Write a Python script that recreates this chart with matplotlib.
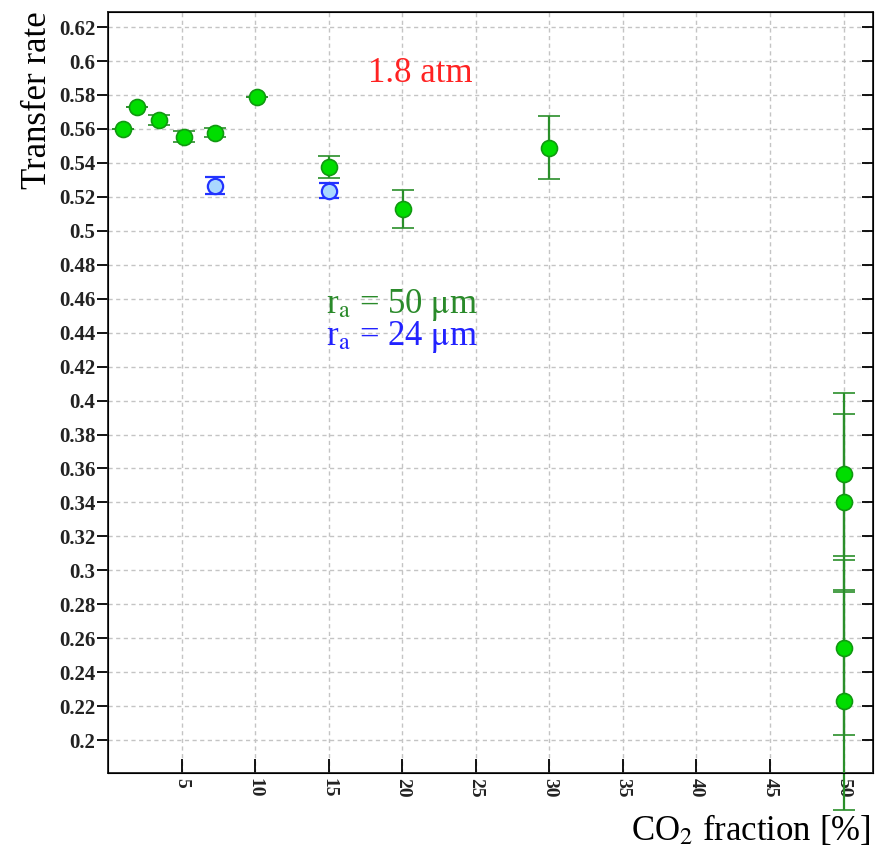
import numpy as np
import matplotlib.pyplot as plt
from matplotlib.ticker import FuncFormatter

# r_a = 50 um (green)
x_g = [1.0, 2.0, 3.5, 5.2, 7.3, 10.1, 15.05, 20.05, 30.0, 50.0, 50.0, 50.0, 50.0]
y_g = [0.5599, 0.5729, 0.5655, 0.5555, 0.5578, 0.5787, 0.5375, 0.5128, 0.5490,
       0.3565, 0.3403, 0.2543, 0.2231]
err_g = [0.0, 0.0, 0.003, 0.003, 0.0025, 0.0, 0.0065, 0.011, 0.0185,
         0.048, 0.052, 0.0515, 0.064]

# r_a = 24 um (blue)
x_b = [7.3, 15.05]
y_b = [0.5265, 0.5236]
err_b = [0.005, 0.0045]

xticks = [5, 10, 15, 20, 25, 30, 35, 40, 45, 50]
yticks = np.round(np.arange(0.20, 0.621, 0.02), 2)

plt.rcParams['font.family'] = ['Liberation Serif', 'DejaVu Serif']

fig = plt.figure(figsize=(8.83, 8.67), dpi=100)
ax = fig.add_axes([0.1223, 0.1084, 0.8664, 0.8776])

ax.errorbar(x_g, y_g, yerr=err_g, fmt='o', color='#00dd00', ms=11.5,
            mec='#119911', mew=1.2, ecolor='#2a8f2a', elinewidth=1.6,
            capsize=8, capthick=1.6, clip_on=False, zorder=3)
ax.errorbar(x_b, y_b, yerr=err_b, fmt='o', color='#aad8ff', ms=11,
            mec='#2233ff', mew=1.6, ecolor='#2233ff', elinewidth=1.6,
            capsize=7, capthick=1.6, zorder=3)

ax.set_xlim(0, 52)
ax.set_ylim(0.1806, 0.6288)
ax.set_xticks(xticks)
ax.set_yticks(yticks)
ax.yaxis.set_major_formatter(FuncFormatter(lambda v, p: ('%g' % round(v, 2))))
ax.grid(True, color='#c4c4c4', linestyle=(0, (3, 2.5)), linewidth=1.0)
ax.set_axisbelow(True)

ax.tick_params(axis='y', direction='out', length=8, width=1.3, labelsize=15,
               pad=1)
ax.tick_params(axis='x', direction='in', length=10, width=1.3, labelsize=14,
               labelrotation=270)
for lab in ax.get_yticklabels() + ax.get_xticklabels():
    lab.set_fontweight('bold')
    lab.set_color('#222222')
for s in ax.spines.values():
    s.set_linewidth(1.3)
    s.set_color('#222222')

# inward ticks on the right side
ax2 = ax.twinx()
ax2.set_ylim(ax.get_ylim())
ax2.set_yticks(yticks)
ax2.tick_params(axis='y', direction='in', length=8, width=1.3, labelright=False)

fig.text(0.043, 0.885, 'Transfer rate', fontsize=25, rotation=90,
         ha='center', va='center')
fig.text(0.986, 0.022, r'CO$_2$ fraction [%]', fontsize=25, ha='right',
         va='bottom', math_fontfamily='stix')

ax.text(21.2, 0.5929, '1.8 atm', color='#ff2222', fontsize=25, ha='center',
        va='center')
ax.text(14.85, 0.4562, r'r$_\mathrm{a}$ = 50 $\mathrm{\mu}$m', color='#2a8a2a',
        fontsize=25, ha='left', va='center', math_fontfamily='stix')
ax.text(14.85, 0.4373, r'r$_\mathrm{a}$ = 24 $\mathrm{\mu}$m', color='#2222ff',
        fontsize=25, ha='left', va='center', math_fontfamily='stix')

fig.savefig('out.png', dpi=100)
